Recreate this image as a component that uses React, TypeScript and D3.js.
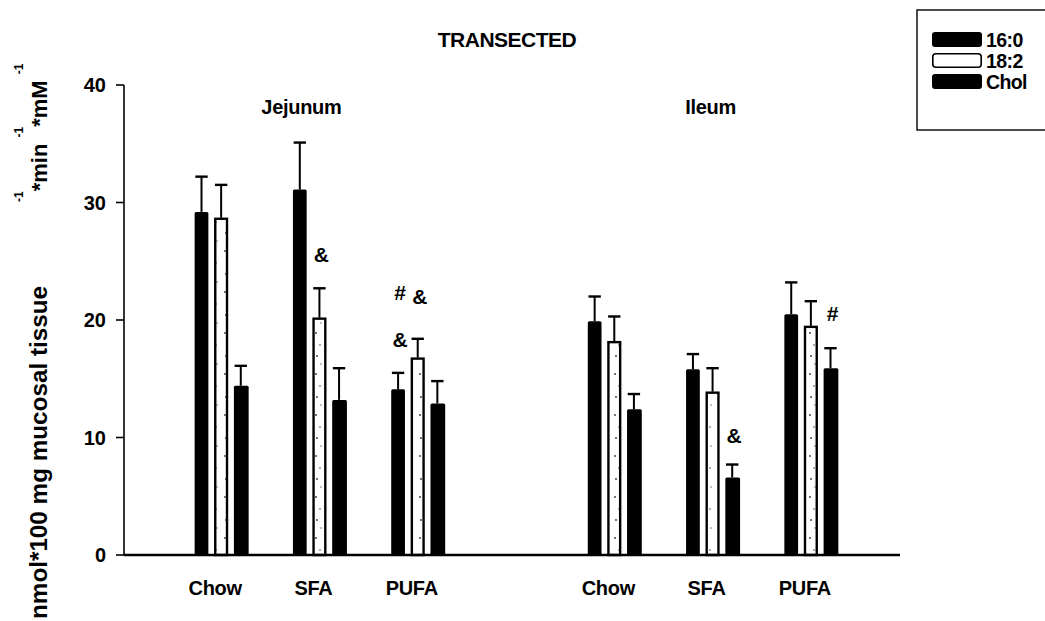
import * as d3 from 'd3'

// groups along the x axis (a blank slot separates the two regions)
const groups = ['J-Chow', 'J-SFA', 'J-PUFA', 'gap', 'I-Chow', 'I-SFA', 'I-PUFA']
const groupLabels = ['Chow', 'SFA', 'PUFA', '', 'Chow', 'SFA', 'PUFA']
const regions = [
  { label: 'Jejunum', group: 'J-SFA' },
  { label: 'Ileum', group: 'I-SFA' },
]
const seriesNames = ['16:0', '18:2', 'Chol']

const barGroups = ['J-Chow', 'J-SFA', 'J-PUFA', 'I-Chow', 'I-SFA', 'I-PUFA']
const fa160 = [29.2, 31.1, 14.1, 19.9, 15.8, 20.5]
const fa182 = [28.7, 20.2, 16.8, 18.2, 13.9, 19.5]
const chol = [14.4, 13.2, 12.9, 12.4, 6.6, 15.9]
const err160 = [3.0, 4.0, 1.4, 2.1, 1.3, 2.7]
const err182 = [2.8, 2.5, 1.6, 2.1, 2.0, 2.1]
const errChol = [1.7, 2.7, 1.9, 1.3, 1.1, 1.7]

const yTicks = [0, 10, 20, 30, 40]

// significance marks: group, series, symbol, height (in y units)
const marks = [
  { group: 'J-SFA', series: '18:2', text: '&', at: 24.9 },
  { group: 'J-PUFA', series: '16:0', text: '#', at: 21.7 },
  { group: 'J-PUFA', series: '16:0', text: '&', at: 17.7 },
  { group: 'J-PUFA', series: '18:2', text: '&', at: 21.4 },
  { group: 'I-SFA', series: 'Chol', text: '&', at: 9.5 },
  { group: 'I-PUFA', series: 'Chol', text: '#', at: 19.9 },
]

const font = '"Liberation Sans", Arial, sans-serif'

export default function App() {
  const width = 1045
  const height = 621
  const axisX = 124

  const x0 = d3.scaleBand().domain(groups).range([172, 860]).padding(0)
  const x1 = d3
    .scaleBand()
    .domain(seriesNames)
    .range([-26.5, 26.5])
    .paddingInner(0.3)
    .paddingOuter(0)
  const y = d3.scaleLinear().domain([0, 40]).range([555, 85])

  const center = (g: string) => (x0(g) || 0) + x0.bandwidth() / 2
  const regionDx = [-18, -2]

  const rows = barGroups.map((g, i) => ({
    group: g,
    bars: [
      { key: '16:0', value: fa160[i], err: err160[i] },
      { key: '18:2', value: fa182[i], err: err182[i] },
      { key: 'Chol', value: chol[i], err: errChol[i] },
    ],
  }))

  const bw = x1.bandwidth()

  return (
    <svg
      width={width}
      height={height}
      style={{ position: 'absolute', left: 0, top: 0, background: '#fff' }}
      fontFamily={font}
      fontWeight="bold"
    >
      <defs>
        <pattern id="dots" patternUnits="userSpaceOnUse" width="13" height="41">
          <rect width="13" height="41" fill="#fff" />
          <circle cx="4" cy="5" r="0.9" fill="#333" />
          <circle cx="8" cy="17" r="0.8" fill="#444" />
          <circle cx="5" cy="28" r="0.9" fill="#333" />
          <circle cx="9" cy="36" r="0.7" fill="#555" />
        </pattern>
      </defs>

      <text x={507} y={47} textAnchor="middle" fontSize={21} letterSpacing={-0.5}>
        TRANSECTED
      </text>

      {regions.map((r, i) => (
        <text
          key={r.label}
          x={center(r.group) + regionDx[i]}
          y={114}
          textAnchor="middle"
          fontSize={20}
          letterSpacing={-0.3}
        >
          {r.label}
        </text>
      ))}

      {/* y axis */}
      <line x1={axisX} x2={axisX} y1={y(40)} y2={y(0)} stroke="#000" strokeWidth={1.6} />
      {yTicks.map((t) => (
        <g key={t}>
          <line x1={axisX - 8} x2={axisX} y1={y(t)} y2={y(t)} stroke="#000" strokeWidth={1.6} />
          <text x={106} y={y(t) + 7} textAnchor="end" fontSize={20}>
            {t}
          </text>
        </g>
      ))}

      {/* y title */}
      <text
        transform="translate(47, 619) rotate(-90)"
        fontSize={23}
        textLength={333}
        lengthAdjust="spacingAndGlyphs"
      >
        nmol*100 mg mucosal tissue
      </text>
      <text transform="translate(47, 202) rotate(-90)" fontSize={22}>
        <tspan fontSize={12} dy={-24}>-1</tspan>
        <tspan dy={24}>*min </tspan>
        <tspan fontSize={12} dy={-24}>-1</tspan>
        <tspan dy={24}>*mM </tspan>
        <tspan fontSize={12} dy={-24}>-1</tspan>
      </text>

      {/* bars */}
      {rows.map((row) => {
        const c = center(row.group)
        return (
          <g key={row.group}>
            {row.bars.map((b) => {
              const bx = c + (x1(b.key) || 0)
              const top = y(b.value)
              const cap = y(b.value + b.err)
              const mid = bx + bw / 2
              const white = b.key === '18:2'
              return (
                <g key={b.key}>
                  <line x1={mid} x2={mid} y1={top} y2={cap} stroke="#000" strokeWidth={2} />
                  <line
                    x1={mid - bw * 0.45}
                    x2={mid + bw * 0.45}
                    y1={cap}
                    y2={cap}
                    stroke="#000"
                    strokeWidth={2.4}
                  />
                  {white ? (
                    <rect
                      x={bx + 1}
                      y={top + 1}
                      width={bw - 2}
                      height={y(0) - top - 1}
                      fill="url(#dots)"
                      stroke="#000"
                      strokeWidth={2.4}
                    />
                  ) : (
                    <rect
                      x={bx}
                      y={top}
                      width={bw + (b.key === 'Chol' ? 1 : 0)}
                      height={y(0) - top}
                      rx={1.5}
                      fill="#000"
                    />
                  )}
                </g>
              )
            })}
          </g>
        )
      })}

      {/* x axis line */}
      <line x1={axisX} x2={900} y1={y(0)} y2={y(0)} stroke="#000" strokeWidth={2.4} />

      {groups.map((g, i) =>
        groupLabels[i] ? (
          <text
            key={g}
            x={center(g) - 6}
            y={595}
            textAnchor="middle"
            fontSize={20}
            letterSpacing={-0.3}
          >
            {groupLabels[i]}
          </text>
        ) : null,
      )}

      {marks.map((m, i) => (
        <text
          key={i}
          x={center(m.group) + (x1(m.series) || 0) + bw / 2 + 2}
          y={y(m.at)}
          textAnchor="middle"
          fontSize={21}
        >
          {m.text}
        </text>
      ))}

      {/* legend */}
      <rect x={917} y={10} width={140} height={120} fill="none" stroke="#000" strokeWidth={1.4} />
      {seriesNames.map((s, i) => (
        <g key={s} transform={`translate(932, ${32 + i * 21})`}>
          <rect
            x={s === '18:2' ? 0.8 : 0}
            y={s === '18:2' ? 0.8 : 0}
            width={s === '18:2' ? 48.4 : 50}
            height={s === '18:2' ? 13.4 : 15}
            rx={3}
            fill={s === '18:2' ? '#fff' : '#000'}
            stroke={s === '18:2' ? '#000' : 'none'}
            strokeWidth={1.6}
          />
          <text x={54} y={14.5} fontSize={19.5} letterSpacing={-0.6}>
            {s}
          </text>
        </g>
      ))}
    </svg>
  )
}
